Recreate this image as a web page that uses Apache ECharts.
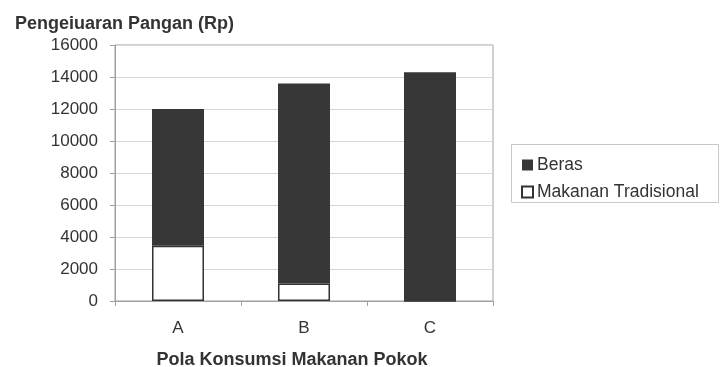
<!DOCTYPE html>
<html><head><meta charset="utf-8">
<script src="https://cdn.jsdelivr.net/npm/echarts@6/dist/echarts.min.js"></script>
<style>html,body{margin:0;padding:0;background:#fff}#c{width:723px;height:367px}</style>
</head><body><div id="c"></div>
<script>
const categories = ['A', 'B', 'C'];
const tradisional = [3450, 1100, 0];
const beras = [8550, 12500, 14300];
const yTicks = [0, 2000, 4000, 6000, 8000, 10000, 12000, 14000, 16000];

const chart = echarts.init(document.getElementById('c'), null, {renderer: 'canvas'});
const font = 'Arial, "Liberation Sans", sans-serif';
chart.setOption({
  animation: false,
  backgroundColor: '#fff',
  title: {
    text: 'Pengeiuaran Pangan (Rp)', left: 10, top: 10,
    textStyle: {fontFamily: font, fontSize: 18, fontWeight: 'bold', color: '#333'}
  },
  grid: {left: 115, right: 230, top: 45, bottom: 66, show: true, borderColor: '#a0a0a0', borderWidth: 1,
    containLabel: false, outerBoundsMode: 'none'},
  legend: {
    orient: 'vertical', left: 516, top: 151, itemGap: 9, itemWidth: 11, itemHeight: 11,
    data: [
      {name: 'Beras', icon: 'rect'},
      {name: 'Makanan Tradisional', icon: 'rect'}
    ],
    textStyle: {fontFamily: font, fontSize: 17.5, color: '#333', padding: [0, 0, 0, -1]}
  },
  graphic: [{
    type: 'rect', shape: {x: 511.5, y: 144.5, width: 207, height: 58},
    style: {fill: 'none', stroke: '#c8c8c8', lineWidth: 1}, z: -1
  }],
  xAxis: {
    type: 'category', data: categories,
    name: 'Pola Konsumsi Makanan Pokok', nameLocation: 'middle', nameGap: 50,
    nameTextStyle: {fontFamily: font, fontSize: 18, fontWeight: 'bold', color: '#333', padding: [0, 24, 0, 0]},
    axisLine: {lineStyle: {color: '#a0a0a0'}},
    axisTick: {show: true, length: 5, lineStyle: {color: '#a0a0a0'}},
    axisLabel: {fontFamily: font, fontSize: 17, color: '#333', margin: 19}
  },
  yAxis: {
    type: 'value', min: 0, max: 16000, interval: 2000,
    axisLine: {show: true, lineStyle: {color: '#a0a0a0'}},
    axisTick: {show: true, length: 5, lineStyle: {color: '#a0a0a0'}},
    axisLabel: {fontFamily: font, fontSize: 17, color: '#333', margin: 17,
      formatter: v => yTicks.includes(v) ? String(v) : ''},
    splitLine: {lineStyle: {color: '#d6d6d6'}}
  },
  series: [
    {
      name: 'Makanan Tradisional', type: 'bar', stack: 'total', data: tradisional, barWidth: 52,
      itemStyle: {color: '#ffffff', borderColor: '#333333', borderWidth: 1.5}
    },
    {
      name: 'Beras', type: 'bar', stack: 'total', data: beras, barWidth: 52,
      itemStyle: {color: '#373737', borderColor: '#373737', borderWidth: 0}
    }
  ]
});
</script></body></html>
